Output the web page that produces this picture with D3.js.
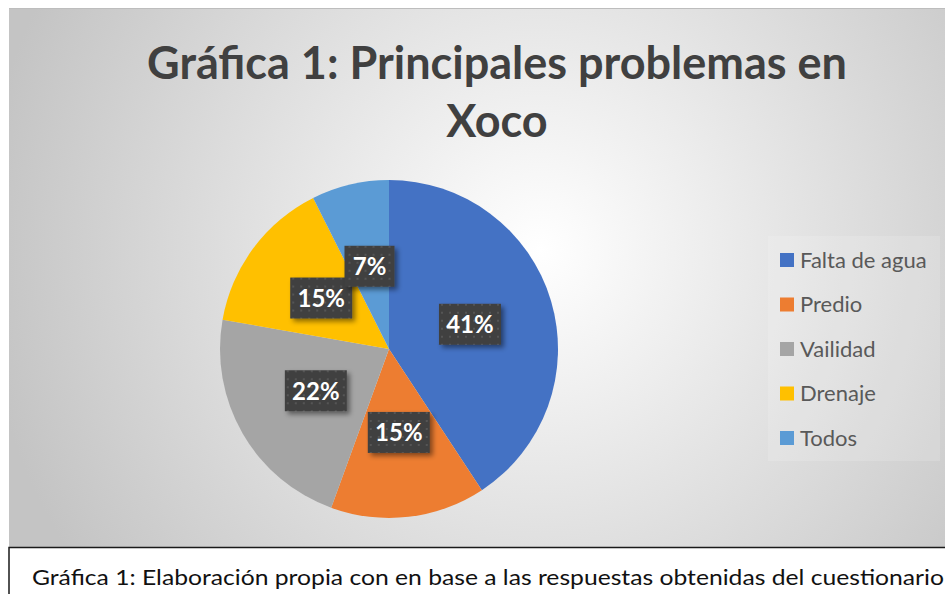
<!DOCTYPE html>
<html>
<head>
<meta charset="utf-8">
<script src="https://cdn.jsdelivr.net/npm/d3@7"></script>
<style>
  body { margin: 0; background: #fff; }
  svg { display: block; }
</style>
</head>
<body>
<svg id="chart" width="945" height="594"></svg>
<script>
// data (11 + 4 + 6 + 4 + 2 = 27 answers)
let categories = ["Falta de agua", "Predio", "Vailidad", "Drenaje", "Todos"];
let counts = [11, 4, 6, 4, 2];
let colors = ["#4472c4", "#ed7d31", "#a5a5a5", "#ffc000", "#5b9bd5"];
let titleLines = ["Gráfica 1: Principales problemas en", "Xoco"];
let caption = "Gráfica 1: Elaboración propia con en base a las respuestas obtenidas del cuestionario";

let svg = d3.select("#chart");
let defs = svg.append("defs");

// background gradient of the chart area
let grad = defs.append("radialGradient")
    .attr("id", "bg")
    .attr("gradientUnits", "userSpaceOnUse")
    .attr("cx", 540).attr("cy", 250).attr("r", 560);
grad.append("stop").attr("offset", "0%").attr("stop-color", "#ffffff");
grad.append("stop").attr("offset", "100%").attr("stop-color", "#c4c4c4");

// dotted fill for the data labels
let pat = defs.append("pattern")
    .attr("id", "dots")
    .attr("patternUnits", "userSpaceOnUse")
    .attr("width", 8).attr("height", 8);
pat.append("rect").attr("width", 8).attr("height", 8).attr("fill", "#404040");
pat.append("rect").attr("x", 3).attr("y", 3).attr("width", 2).attr("height", 2).attr("fill", "#555555");

let shadow = defs.append("filter").attr("id", "shadow")
    .attr("x", "-20%").attr("y", "-20%").attr("width", "150%").attr("height", "160%");
shadow.append("feDropShadow")
    .attr("dx", 3).attr("dy", 3).attr("stdDeviation", 2.5)
    .attr("flood-color", "#000").attr("flood-opacity", 0.45);

// chart area
svg.append("rect")
    .attr("x", 9).attr("y", 8)
    .attr("width", 945).attr("height", 540)
    .attr("fill", "url(#bg)");
svg.append("line")
    .attr("x1", 9).attr("x2", 945).attr("y1", 8.5).attr("y2", 8.5)
    .attr("stroke", "#bdbdbd");

// title
svg.append("text")
    .attr("x", 498).attr("y", 79)
    .attr("text-anchor", "middle")
    .style("font-family", "Lato, 'Open Sans', sans-serif")
    .style("font-weight", "bold")
    .style("font-size", "45px")
    .attr("fill", "#404040")
    .selectAll("tspan")
    .data(titleLines)
    .join("tspan")
    .attr("x", 497)
    .attr("dy", (d, i) => i === 0 ? 0 : 58)
    .text(d => d);

// pie
let cx = 389, cy = 349, radius = 169;
let pie = d3.pie().sort(null).value(d => d);
let arcs = pie(counts);
let arc = d3.arc().innerRadius(0).outerRadius(radius);
let labelArc = d3.arc().innerRadius(radius * 0.5).outerRadius(radius * 0.5);
let total = d3.sum(counts);
let fmt = d3.format(".0%");

let g = svg.append("g").attr("transform", `translate(${cx},${cy})`);
g.selectAll("path.slice")
    .data(arcs)
    .join("path")
    .attr("class", "slice")
    .attr("d", arc)
    .attr("fill", (d, i) => colors[i]);

let labels = g.selectAll("g.lbl")
    .data(arcs)
    .join("g")
    .attr("class", "lbl")
    .attr("transform", d => `translate(${labelArc.centroid(d)})`);

labels.each(function(d) {
    let txt = fmt(d.value / total);
    let w = txt.length > 2 ? 62 : 50;
    let sel = d3.select(this);
    sel.append("rect")
        .attr("x", -w / 2).attr("y", -21)
        .attr("width", w).attr("height", 41)
        .attr("fill", "url(#dots)")
        .attr("filter", "url(#shadow)");
    sel.append("text")
        .attr("text-anchor", "middle")
        .attr("y", 8.5)
        .style("font-family", "Lato, 'Open Sans', sans-serif")
        .style("font-weight", "bold")
        .style("font-size", "24px")
        .attr("fill", "#ffffff")
        .text(txt);
});

// legend
let legend = svg.append("g").attr("transform", "translate(768,236)");
legend.append("rect")
    .attr("width", 172).attr("height", 225)
    .attr("fill", "#ffffff").attr("opacity", 0.15);
let rowY = d3.scalePoint().domain(categories).range([24, 202]);
let items = legend.selectAll("g.item")
    .data(categories)
    .join("g")
    .attr("class", "item")
    .attr("transform", d => `translate(0,${rowY(d)})`);
items.append("rect")
    .attr("x", 12).attr("y", -7)
    .attr("width", 14).attr("height", 14)
    .attr("fill", (d, i) => colors[i]);
items.append("text")
    .attr("x", 32).attr("y", 7.5)
    .style("font-family", "Lato, 'Open Sans', sans-serif")
    .style("font-size", "22px")
    .attr("fill", "#595959")
    .text(d => d);

// caption box
svg.append("rect")
    .attr("x", 9).attr("y", 547.5)
    .attr("width", 950).attr("height", 60)
    .attr("fill", "#ffffff")
    .attr("stroke", "#1a1a1a").attr("stroke-width", 1.5);
svg.append("text")
    .attr("x", 32).attr("y", 585)
    .attr("textLength", 912)
    .attr("lengthAdjust", "spacingAndGlyphs")
    .style("font-family", "Lato, 'Open Sans', sans-serif")
    .style("font-size", "21px")
    .attr("fill", "#111111")
    .text(caption);
</script>
</body>
</html>
